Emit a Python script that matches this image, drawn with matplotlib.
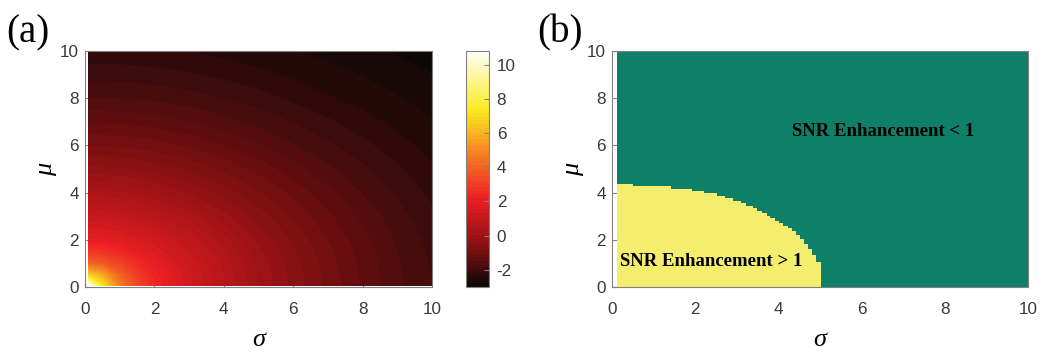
import numpy as np
import matplotlib
matplotlib.use("Agg")
import matplotlib.pyplot as plt
from matplotlib.colors import LinearSegmentedColormap

# ---------------- data ----------------
# Panel (a): SNR enhancement (colour value) on a coarse (sigma, mu) grid
sigma_nodes = [0.1, 0.5, 1, 1.5, 2, 3, 4, 5, 6, 7, 8, 9, 10]
mu_nodes = [0.05, 0.5, 1, 1.5, 2, 3, 4, 5, 6, 7, 8, 9, 10]
snr_grid = [
    [10.8, 7.2, 4.6, 3.2, 2.4, 1.4, 0.7, 0.0, -0.5, -0.9, -1.3, -1.65, -1.93],      # mu = 0
    [6.7, 5.7, 4.0, 3.0, 2.3, 1.35, 0.67, 0.0, -0.5, -0.93, -1.32, -1.67, -1.93],   # mu = 0.5
    [4.0, 3.7, 3.1, 2.55, 2.0, 1.25, 0.6, -0.05, -0.52, -0.95, -1.34, -1.68, -1.95],
    [2.8, 2.7, 2.4, 2.0, 1.7, 1.08, 0.48, -0.14, -0.59, -1.0, -1.37, -1.71, -1.97],
    [2.0, 1.95, 1.8, 1.6, 1.38, 0.85, 0.32, -0.25, -0.66, -1.06, -1.42, -1.74, -2.0],
    [1.1, 1.08, 1.0, 0.88, 0.72, 0.36, -0.13, -0.51, -0.88, -1.22, -1.55, -1.83, -2.08],
    [0.35, 0.33, 0.26, 0.17, 0.03, -0.23, -0.51, -0.82, -1.12, -1.43, -1.72, -1.96, -2.2],
    [-0.35, -0.36, -0.39, -0.44, -0.5, -0.67, -0.9, -1.14, -1.4, -1.66, -1.88, -2.1, -2.32],
    [-0.85, -0.86, -0.88, -0.91, -0.96, -1.1, -1.26, -1.47, -1.69, -1.88, -2.07, -2.28, -2.43],
    [-1.3, -1.3, -1.32, -1.35, -1.39, -1.49, -1.64, -1.78, -1.93, -2.1, -2.28, -2.41, -2.55],
    [-1.7, -1.7, -1.72, -1.73, -1.76, -1.83, -1.92, -2.04, -2.19, -2.33, -2.43, -2.55, -2.67],
    [-2.0, -2.0, -2.01, -2.03, -2.05, -2.11, -2.2, -2.3, -2.39, -2.48, -2.58, -2.69, -2.78],
    [-2.3, -2.3, -2.31, -2.32, -2.33, -2.37, -2.42, -2.48, -2.56, -2.65, -2.73, -2.81, -2.9],  # mu = 10
]
color_range = [-3.0, 10.8]
cbar_ticks = [-2, 0, 2, 4, 6, 8, 10]

# Panel (b): boundary of the "SNR Enhancement > 1" region (step edges in sigma, height in mu)
boundary_sigma = [0.12, 0.50, 1.42, 1.92, 2.22, 2.52, 2.72, 2.92, 3.09, 3.22, 3.40, 3.49, 3.60,
                  3.72, 3.80, 3.92, 4.02, 4.12, 4.22, 4.33, 4.42, 4.52, 4.62, 4.71, 4.81, 4.90, 5.02]
boundary_mu = [4.38, 4.27, 4.15, 4.07, 3.97, 3.87, 3.76, 3.66, 3.55, 3.44, 3.33, 3.23, 3.12,
               3.02, 2.91, 2.81, 2.70, 2.60, 2.50, 2.39, 2.22, 2.02, 1.81, 1.60, 1.36, 1.07]
domain_sigma = [0.12, 10]
domain_mu = [0, 10]

axis_ticks = [0, 2, 4, 6, 8, 10]
label_gt = "SNR Enhancement > 1"
label_lt = "SNR Enhancement < 1"
label_gt_pos = (0.19, 1.1)
label_lt_pos = (4.33, 6.6)

# ---------------- style ----------------
tick_color = "#3a3a3a"
spine_color = "#808080"
teal = "#0E8068"
yellow = "#F5ED6E"

cmap = LinearSegmentedColormap.from_list(
    "hotlike",
    [(0.0, (0.05, 0.03, 0.03)),
     (0.10, (0.34, 0.05, 0.05)),
     (0.20, (0.60, 0.07, 0.08)),
     (0.375, (0.93, 0.12, 0.14)),
     (0.56, (0.96, 0.50, 0.13)),
     (0.75, (0.98, 0.92, 0.12)),
     (1.0, (1.0, 1.0, 0.97))],
    N=64)

plt.rcParams["font.family"] = ["Liberation Sans", "DejaVu Sans"]
plt.rcParams["axes.unicode_minus"] = False

fig = plt.figure(figsize=(10.44, 3.52), dpi=100)
ax1 = fig.add_axes([0.0814, 0.1847, 0.3324, 0.6704])
cax = fig.add_axes([0.4464, 0.1847, 0.0220, 0.6704])
ax2 = fig.add_axes([0.5862, 0.1847, 0.3985, 0.6704])


def style_axes(ax):
    ax.set_xlim(0, 10)
    ax.set_ylim(0, 10)
    ax.set_xticks(axis_ticks)
    ax.set_yticks(axis_ticks)
    ax.set_axisbelow(True)
    ax.tick_params(direction="in", length=3.5, width=0.8, color=spine_color,
                   labelsize=12.3, labelcolor=tick_color)
    ax.tick_params(axis="x", pad=10.5)
    ax.tick_params(axis="y", pad=4.5)
    for s in ax.spines.values():
        s.set_color(spine_color)
        s.set_linewidth(0.8)
    ax.set_xlabel("σ", fontsize=19, labelpad=9,
                  fontfamily="Liberation Serif", fontstyle="italic")
    ax.set_ylabel("μ", fontsize=19, labelpad=2,
                  fontfamily="Liberation Serif", fontstyle="italic")


# Panel (a)
levels = np.linspace(color_range[0], color_range[1] + 0.05, 65)
cs = ax1.contourf(sigma_nodes, mu_nodes, np.array(snr_grid), levels=levels, cmap=cmap,
                  vmin=color_range[0], vmax=color_range[1], antialiased=False)
style_axes(ax1)
cb = fig.colorbar(cs, cax=cax, ticks=cbar_ticks)
cb.outline.set_edgecolor(spine_color)
cb.outline.set_linewidth(0.8)
cb.ax.tick_params(direction="in", length=3.5, width=0.8, color=spine_color,
                  labelsize=12.3, labelcolor=tick_color, pad=5.5)
cb.ax.set_ylim(color_range[0], color_range[1])

# Panel (b)
ax2.fill_between(domain_sigma, domain_mu[0], domain_mu[1], color=teal, linewidth=0, zorder=1)
ax2.stairs(boundary_mu, boundary_sigma, baseline=0, fill=True, color=yellow, linewidth=0, zorder=1.5)
style_axes(ax2)
ax2.text(label_gt_pos[0], label_gt_pos[1], label_gt, ha="left", va="center",
         fontsize=13.5, fontweight="bold", fontfamily="Liberation Serif", color="black", zorder=3)
ax2.text(label_lt_pos[0], label_lt_pos[1], label_lt, ha="left", va="center",
         fontsize=13.5, fontweight="bold", fontfamily="Liberation Serif", color="black", zorder=3)

# panel letters
fig.text(0.006, 0.958, "(a)", fontsize=28, fontfamily="Liberation Serif", va="top", ha="left")
fig.text(0.515, 0.958, "(b)", fontsize=28, fontfamily="Liberation Serif", va="top", ha="left")

fig.savefig("out.png", dpi=100)
